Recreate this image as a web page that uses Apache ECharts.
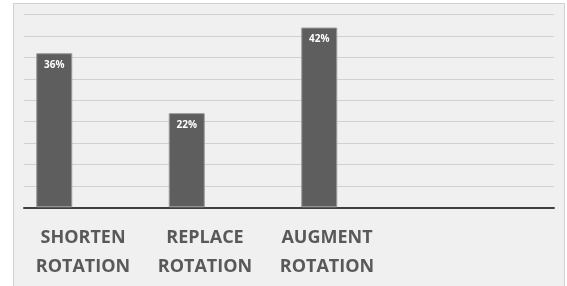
<!DOCTYPE html>
<html>
<head>
<meta charset="utf-8">
<script src="https://cdn.jsdelivr.net/npm/echarts@6/dist/echarts.min.js"></script>
<style>
  html, body { margin: 0; padding: 0; background: #fff; }
  #box { position: absolute; left: 13px; top: 3px; width: 550px; height: 300px;
         background: #f0f0f0; border: 1px solid #d2d2d2; }
  #main { position: absolute; left: 0; top: 0; width: 567px; height: 286px; }
</style>
</head>
<body>
<div id="box"></div>
<div id="main"></div>
<script>
var categories = ['SHORTEN\nROTATION', 'REPLACE\nROTATION', 'AUGMENT\nROTATION', ''];
var values = [36, 22, 42];
var yMax = 45;
var yStep = 5;

var myChart = echarts.init(document.getElementById('main'));

var option = {
    backgroundColor: 'transparent',
    animation: false,
    grid: [
        { left: 24, right: 13, top: 14.7, bottom: 78.7 },
        // second grid only carries the category labels
        { left: 22, width: 488, top: 14.7, bottom: 78.7 }
    ],
    xAxis: [{
        type: 'category',
        gridIndex: 0,
        data: categories,
        axisTick: { show: false },
        axisLabel: { show: false },
        axisLine: { lineStyle: { color: '#404040', width: 2 } }
    }, {
        type: 'category',
        gridIndex: 1,
        data: categories,
        axisTick: { show: false },
        axisLine: { show: false },
        axisLabel: {
            margin: 16,
            color: '#595959',
            fontFamily: 'Open Sans',
            fontWeight: 'bold',
            fontSize: 18,
            lineHeight: 29,
            interval: 0
        }
    }],
    yAxis: [{
        type: 'value',
        gridIndex: 0,
        min: 0,
        max: yMax,
        interval: yStep,
        axisLabel: { show: false },
        axisLine: { show: false },
        axisTick: { show: false },
        splitLine: { lineStyle: { color: '#d0d0d0', width: 1 } }
    }, {
        type: 'value',
        gridIndex: 1,
        show: false,
        min: 0,
        max: yMax
    }],
    series: [{
        type: 'bar',
        data: values,
        barWidth: 36,
        barGap: '0%',
        itemStyle: {
            color: '#5e5e5e',
            borderColor: '#9a9a9a',
            borderWidth: 1
        },
        label: {
            show: true,
            position: 'insideTop',
            distance: 7,
            formatter: '{c}%',
            color: '#fff',
            fontFamily: 'Open Sans',
            fontWeight: 'bold',
            fontSize: 10
        }
    }, {
        type: 'bar',
        data: [],
        barWidth: 36
    }, {
        type: 'bar',
        data: [],
        barWidth: 36
    }]
};

myChart.setOption(option, true);
</script>
</body>
</html>
